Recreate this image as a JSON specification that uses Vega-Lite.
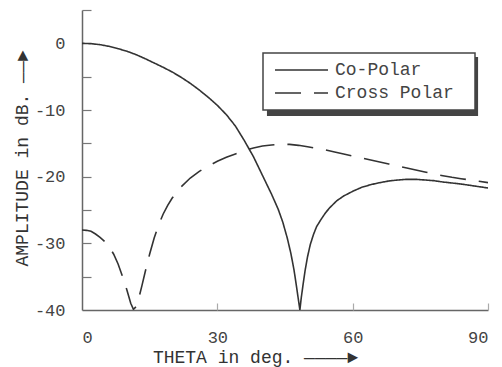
{
  "$schema": "https://vega.github.io/schema/vega-lite/v6.json",
  "width": 406,
  "height": 300,
  "autosize": {"type": "none"},
  "padding": {"left": 82, "top": 10, "right": 14, "bottom": 57},
  "background": "white",
  "config": {
    "view": {"stroke": null},
    "font": "Liberation Mono",
    "axis": {
      "grid": false,
      "domainColor": "#666",
      "domainWidth": 1.5,
      "tickColor": "#777",
      "tickWidth": 1.2,
      "labelColor": "#444",
      "labelFont": "Liberation Mono",
      "labelFontSize": 17,
      "labelFontWeight": "normal",
      "titleColor": "#333",
      "titleFont": "Liberation Mono",
      "titleFontSize": 18,
      "titleFontWeight": "normal"
    }
  },
  "resolve": {"axis": {"x": "independent", "y": "independent"}},
  "data": {
    "values": [
      {"theta": 0, "amp": 0, "series": "Co-Polar"},
      {"theta": 2, "amp": -0.05, "series": "Co-Polar"},
      {"theta": 4, "amp": -0.2, "series": "Co-Polar"},
      {"theta": 6, "amp": -0.45, "series": "Co-Polar"},
      {"theta": 8, "amp": -0.8, "series": "Co-Polar"},
      {"theta": 10, "amp": -1.2, "series": "Co-Polar"},
      {"theta": 12, "amp": -1.7, "series": "Co-Polar"},
      {"theta": 14, "amp": -2.3, "series": "Co-Polar"},
      {"theta": 16, "amp": -2.95, "series": "Co-Polar"},
      {"theta": 18, "amp": -3.6, "series": "Co-Polar"},
      {"theta": 20, "amp": -4.3, "series": "Co-Polar"},
      {"theta": 22, "amp": -5.1, "series": "Co-Polar"},
      {"theta": 24, "amp": -6.0, "series": "Co-Polar"},
      {"theta": 26, "amp": -7.0, "series": "Co-Polar"},
      {"theta": 28, "amp": -8.1, "series": "Co-Polar"},
      {"theta": 30, "amp": -9.3, "series": "Co-Polar"},
      {"theta": 32, "amp": -10.7, "series": "Co-Polar"},
      {"theta": 34, "amp": -12.4, "series": "Co-Polar"},
      {"theta": 36, "amp": -14.6, "series": "Co-Polar"},
      {"theta": 38, "amp": -17.0, "series": "Co-Polar"},
      {"theta": 40, "amp": -19.8, "series": "Co-Polar"},
      {"theta": 42, "amp": -22.6, "series": "Co-Polar"},
      {"theta": 43.5, "amp": -24.9, "series": "Co-Polar"},
      {"theta": 44.5, "amp": -26.8, "series": "Co-Polar"},
      {"theta": 45.5, "amp": -29.2, "series": "Co-Polar"},
      {"theta": 46.3, "amp": -31.5, "series": "Co-Polar"},
      {"theta": 47, "amp": -34, "series": "Co-Polar"},
      {"theta": 47.6, "amp": -36.7, "series": "Co-Polar"},
      {"theta": 48, "amp": -38.6, "series": "Co-Polar"},
      {"theta": 48.3, "amp": -40, "series": "Co-Polar"},
      {"theta": 48.6, "amp": -38.2, "series": "Co-Polar"},
      {"theta": 49, "amp": -36.2, "series": "Co-Polar"},
      {"theta": 49.5, "amp": -33.9, "series": "Co-Polar"},
      {"theta": 50, "amp": -32.0, "series": "Co-Polar"},
      {"theta": 50.6, "amp": -30.2, "series": "Co-Polar"},
      {"theta": 51.3, "amp": -28.7, "series": "Co-Polar"},
      {"theta": 52, "amp": -27.5, "series": "Co-Polar"},
      {"theta": 53, "amp": -26.4, "series": "Co-Polar"},
      {"theta": 54, "amp": -25.4, "series": "Co-Polar"},
      {"theta": 55, "amp": -24.6, "series": "Co-Polar"},
      {"theta": 56.5, "amp": -23.6, "series": "Co-Polar"},
      {"theta": 58, "amp": -22.9, "series": "Co-Polar"},
      {"theta": 60, "amp": -22.2, "series": "Co-Polar"},
      {"theta": 62, "amp": -21.6, "series": "Co-Polar"},
      {"theta": 64, "amp": -21.2, "series": "Co-Polar"},
      {"theta": 66, "amp": -20.9, "series": "Co-Polar"},
      {"theta": 68, "amp": -20.65, "series": "Co-Polar"},
      {"theta": 70, "amp": -20.5, "series": "Co-Polar"},
      {"theta": 72, "amp": -20.4, "series": "Co-Polar"},
      {"theta": 74, "amp": -20.4, "series": "Co-Polar"},
      {"theta": 76, "amp": -20.5, "series": "Co-Polar"},
      {"theta": 78, "amp": -20.6, "series": "Co-Polar"},
      {"theta": 80, "amp": -20.8, "series": "Co-Polar"},
      {"theta": 82, "amp": -20.95, "series": "Co-Polar"},
      {"theta": 84, "amp": -21.1, "series": "Co-Polar"},
      {"theta": 86, "amp": -21.3, "series": "Co-Polar"},
      {"theta": 88, "amp": -21.5, "series": "Co-Polar"},
      {"theta": 90, "amp": -21.7, "series": "Co-Polar"},
      {"theta": 0, "amp": -28, "series": "Cross Polar"},
      {"theta": 1, "amp": -28.05, "series": "Cross Polar"},
      {"theta": 2, "amp": -28.2, "series": "Cross Polar"},
      {"theta": 3, "amp": -28.6, "series": "Cross Polar"},
      {"theta": 4, "amp": -29.1, "series": "Cross Polar"},
      {"theta": 5, "amp": -29.7, "series": "Cross Polar"},
      {"theta": 6, "amp": -30.5, "series": "Cross Polar"},
      {"theta": 7, "amp": -31.6, "series": "Cross Polar"},
      {"theta": 8, "amp": -33.1, "series": "Cross Polar"},
      {"theta": 9, "amp": -35.0, "series": "Cross Polar"},
      {"theta": 10, "amp": -37.1, "series": "Cross Polar"},
      {"theta": 10.8, "amp": -39.0, "series": "Cross Polar"},
      {"theta": 11.4, "amp": -39.9, "series": "Cross Polar"},
      {"theta": 12, "amp": -39.5, "series": "Cross Polar"},
      {"theta": 12.6, "amp": -38.2, "series": "Cross Polar"},
      {"theta": 13.3, "amp": -36.3, "series": "Cross Polar"},
      {"theta": 14, "amp": -34.3, "series": "Cross Polar"},
      {"theta": 15, "amp": -31.6, "series": "Cross Polar"},
      {"theta": 16, "amp": -29.2, "series": "Cross Polar"},
      {"theta": 17, "amp": -27.2, "series": "Cross Polar"},
      {"theta": 18, "amp": -25.6, "series": "Cross Polar"},
      {"theta": 19, "amp": -24.3, "series": "Cross Polar"},
      {"theta": 20, "amp": -23.2, "series": "Cross Polar"},
      {"theta": 22, "amp": -21.5, "series": "Cross Polar"},
      {"theta": 24, "amp": -20.2, "series": "Cross Polar"},
      {"theta": 26, "amp": -19.2, "series": "Cross Polar"},
      {"theta": 28, "amp": -18.4, "series": "Cross Polar"},
      {"theta": 30, "amp": -17.7, "series": "Cross Polar"},
      {"theta": 32, "amp": -17.1, "series": "Cross Polar"},
      {"theta": 34, "amp": -16.6, "series": "Cross Polar"},
      {"theta": 36, "amp": -16.1, "series": "Cross Polar"},
      {"theta": 38, "amp": -15.7, "series": "Cross Polar"},
      {"theta": 40, "amp": -15.4, "series": "Cross Polar"},
      {"theta": 42, "amp": -15.25, "series": "Cross Polar"},
      {"theta": 44, "amp": -15.15, "series": "Cross Polar"},
      {"theta": 46, "amp": -15.15, "series": "Cross Polar"},
      {"theta": 48, "amp": -15.3, "series": "Cross Polar"},
      {"theta": 50, "amp": -15.5, "series": "Cross Polar"},
      {"theta": 52, "amp": -15.75, "series": "Cross Polar"},
      {"theta": 54, "amp": -16.0, "series": "Cross Polar"},
      {"theta": 56, "amp": -16.3, "series": "Cross Polar"},
      {"theta": 58, "amp": -16.6, "series": "Cross Polar"},
      {"theta": 60, "amp": -16.9, "series": "Cross Polar"},
      {"theta": 62, "amp": -17.2, "series": "Cross Polar"},
      {"theta": 64, "amp": -17.5, "series": "Cross Polar"},
      {"theta": 66, "amp": -17.8, "series": "Cross Polar"},
      {"theta": 68, "amp": -18.1, "series": "Cross Polar"},
      {"theta": 70, "amp": -18.4, "series": "Cross Polar"},
      {"theta": 72, "amp": -18.7, "series": "Cross Polar"},
      {"theta": 74, "amp": -19.0, "series": "Cross Polar"},
      {"theta": 76, "amp": -19.3, "series": "Cross Polar"},
      {"theta": 78, "amp": -19.6, "series": "Cross Polar"},
      {"theta": 80, "amp": -19.85, "series": "Cross Polar"},
      {"theta": 82, "amp": -20.1, "series": "Cross Polar"},
      {"theta": 84, "amp": -20.3, "series": "Cross Polar"},
      {"theta": 86, "amp": -20.5, "series": "Cross Polar"},
      {"theta": 88, "amp": -20.7, "series": "Cross Polar"},
      {"theta": 90, "amp": -20.9, "series": "Cross Polar"}
    ]
  },
  "layer": [
    {
      "mark": {"type": "line", "stroke": "#333", "strokeWidth": 1.6, "clip": true},
      "encoding": {
        "x": {
          "field": "theta", "type": "quantitative",
          "scale": {"domain": [0, 90], "nice": false, "zero": false},
          "axis": {
            "orient": "bottom",
            "values": [0, 30, 60, 90],
            "ticks": false,
            "labelPadding": 19,
            "labelBaseline": "top",
            "title": "THETA in deg. ————►",
            "titleX": 173,
            "titleY": 47,
            "titleAlign": "center",
            "titleBaseline": "middle",
            "titleAnchor": null
          }
        },
        "y": {
          "field": "amp", "type": "quantitative",
          "scale": {"domain": [-40, 5], "nice": false, "zero": false},
          "axis": {
            "orient": "left",
            "values": [-40, -30, -20, -10, 0],
            "labelExpr": "'' + datum.value",
            "ticks": false,
            "labelPadding": 17,
            "title": "AMPLITUDE in dB. ——►",
            "titleX": -60,
            "titleY": 148,
            "titleAlign": "center",
            "titleBaseline": "middle",
            "titleAngle": -90
          }
        },
        "strokeDash": {
          "field": "series", "type": "nominal",
          "scale": {"domain": ["Co-Polar", "Cross Polar"], "range": [[1, 0], [26, 13]]},
          "legend": {
            "title": null,
            "orient": "none",
            "legendX": 181,
            "legendY": 43,
            "padding": 8,
            "fillColor": "white",
            "strokeColor": "#444",
            "symbolType": "M-1,0H9.6",
            "symbolSize": 100,
            "symbolStrokeColor": "#333",
            "symbolStrokeWidth": 1.6,
            "symbolFillColor": "transparent",
            "labelOffset": 46,
            "labelFont": "Liberation Mono",
            "labelFontSize": 18,
            "labelColor": "#444",
            "labelLimit": 400,
            "rowPadding": 5,
            "labelExpr": "datum.label + '\u2800'",
            "encode": {"legend": {"update": {"strokeWidth": {"value": 1.5}}}}
          }
        }
      }
    },
    {
      "data": {"values": [{}]},
      "mark": {"type": "rect", "color": "#444"},
      "encoding": {
        "x": {
          "datum": 41.0, "type": "quantitative",
          "axis": {"orient": "bottom", "offset": -7, "tickSize": 7, "tickColor": "#aaa", "values": [30, 60, 90], "labels": false, "domain": false, "title": null}
        },
        "x2": {"datum": 87.8},
        "y": {
          "datum": -2.05, "type": "quantitative",
          "axis": {"orient": "left", "offset": -9, "tickSize": 9, "values": [-35, -30, -25, -20, -15, -10, -5, 5], "labels": false, "domain": false, "title": null}
        },
        "y2": {"datum": -10.9}
      }
    }
  ]
}
